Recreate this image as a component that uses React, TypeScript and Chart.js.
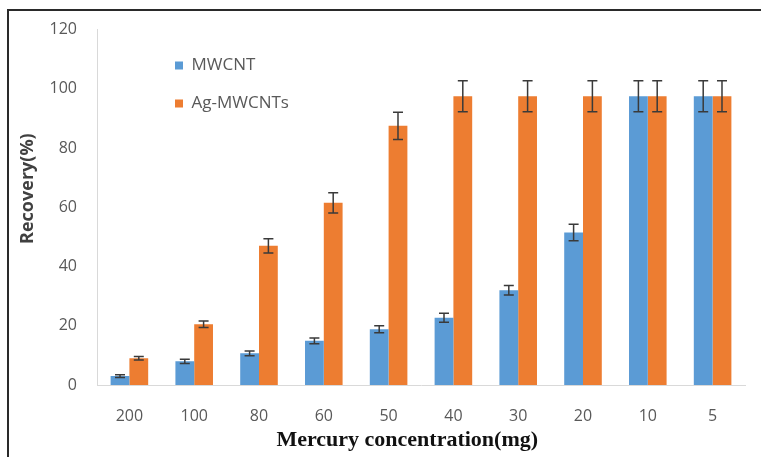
import React, { useEffect, useRef } from "react";
import { Chart, registerables } from "chart.js";

Chart.register(...registerables);

const categories = ["200", "100", "80", "60", "50", "40", "30", "20", "10", "5"];
const mwcntValues = [3, 8, 10.7, 14.9, 18.8, 22.7, 32, 51.5, 97.5, 97.5];
const mwcntErrors = [0.5, 0.7, 0.8, 1, 1.2, 1.5, 1.6, 2.8, 5.2, 5.2];
const agValues = [9, 20.5, 47, 61.5, 87.5, 97.5, 97.5, 97.5, 97.5, 97.5];
const agErrors = [0.6, 1.1, 2.4, 3.4, 4.6, 5.2, 5.2, 5.2, 5.2, 5.2];
const errorsByDataset = [mwcntErrors, agErrors];

const errorBarPlugin = {
  id: "errorBars",
  afterDatasetsDraw(chart: any) {
    const ctx = chart.ctx;
    const yScale = chart.scales.y;
    ctx.save();
    ctx.strokeStyle = "#3a3a3a";
    ctx.lineWidth = 1.5;
    chart.data.datasets.forEach((ds: any, di: number) => {
      const meta = chart.getDatasetMeta(di);
      const errs = errorsByDataset[di];
      meta.data.forEach((bar: any, i: number) => {
        const v = ds.data[i];
        const e = errs[i];
        const yTop = yScale.getPixelForValue(v + e);
        const yBot = yScale.getPixelForValue(v - e);
        const x = bar.x;
        const cap = 5;
        ctx.beginPath();
        ctx.moveTo(x, yTop);
        ctx.lineTo(x, yBot);
        ctx.moveTo(x - cap, yTop);
        ctx.lineTo(x + cap, yTop);
        ctx.moveTo(x - cap, yBot);
        ctx.lineTo(x + cap, yBot);
        ctx.stroke();
      });
    });
    ctx.restore();
  },
};

const legendMovePlugin = {
  id: "legendMove",
  afterLayout(chart: any) {
    const lg = chart.legend;
    if (!lg) return;
    const w = lg.right - lg.left;
    const h = lg.bottom - lg.top;
    lg.left = 154;
    lg.right = 154 + w;
    lg.top = 36;
    lg.bottom = 36 + h;
  },
};

export default function App() {
  const ref = useRef<HTMLCanvasElement>(null);
  useEffect(() => {
    if (!ref.current) return;
    const chart = new Chart(ref.current, {
      type: "bar",
      data: {
        labels: categories,
        datasets: [
          {
            label: "MWCNT",
            data: mwcntValues,
            backgroundColor: "#5B9BD5",
            categoryPercentage: 0.58,
            barPercentage: 1,
          },
          {
            label: "Ag-MWCNTs",
            data: agValues,
            backgroundColor: "#ED7D31",
            categoryPercentage: 0.58,
            barPercentage: 1,
          },
        ],
      },
      options: {
        responsive: false,
        animation: false,
        devicePixelRatio: 1,
        layout: { padding: { left: 12, top: 27, right: 16, bottom: 0 } },
        plugins: {
          tooltip: { enabled: false },
          legend: {
            position: "chartArea",
            align: "start",
            labels: {
              boxWidth: 8,
              boxHeight: 8,
              padding: 21,
              color: "#595959",
              font: { family: "'Open Sans', sans-serif", size: 17 },
            },
          },
        },
        scales: {
          x: {
            grid: { display: false, drawTicks: false },
            border: { display: true, color: "#d9d9d9", width: 1 },
            ticks: {
              color: "#595959",
              padding: 22,
              font: { family: "'Open Sans', sans-serif", size: 16 },
            },
            title: {
              display: true,
              text: "Mercury concentration(mg)     ",
              color: "#111111",
              font: { family: "'Liberation Serif', 'Times New Roman', serif", size: 22, weight: "bold" },
              padding: { top: 4, bottom: 3 },
            },
            afterFit: (s: any) => {
              s.height = 72;
            },
          },
          y: {
            min: 0,
            max: 120,
            grid: { display: false, drawTicks: false },
            border: { display: true, color: "#d9d9d9", width: 1 },
            ticks: {
              stepSize: 20,
              color: "#595959",
              padding: 20,
              font: { family: "'Open Sans', sans-serif", size: 16 },
            },
            title: {
              display: true,
              text: "        Recovery(%)",
              color: "#404040",
              font: { family: "'Open Sans', sans-serif", size: 18, weight: "bold" },
              padding: { top: 5, bottom: 4 },
            },
            afterFit: (s: any) => {
              s.width = 85;
            },
          },
        },
      },
      plugins: [errorBarPlugin, legendMovePlugin],
    });
    return () => chart.destroy();
  }, []);

  return (
    <div style={{ position: "fixed", left: 0, top: 0, width: 761, height: 457, background: "#fff", overflow: "hidden" }}>
      <canvas ref={ref} width={761} height={457} style={{ position: "absolute", left: 0, top: 0, width: 761, height: 457 }} />
      <div
        style={{
          position: "absolute",
          left: 7,
          top: 9,
          width: 761,
          height: 460,
          borderLeft: "2px solid #2a2a2a",
          borderTop: "2px solid #2a2a2a",
          boxSizing: "border-box",
          pointerEvents: "none",
        }}
      />
    </div>
  );
}
